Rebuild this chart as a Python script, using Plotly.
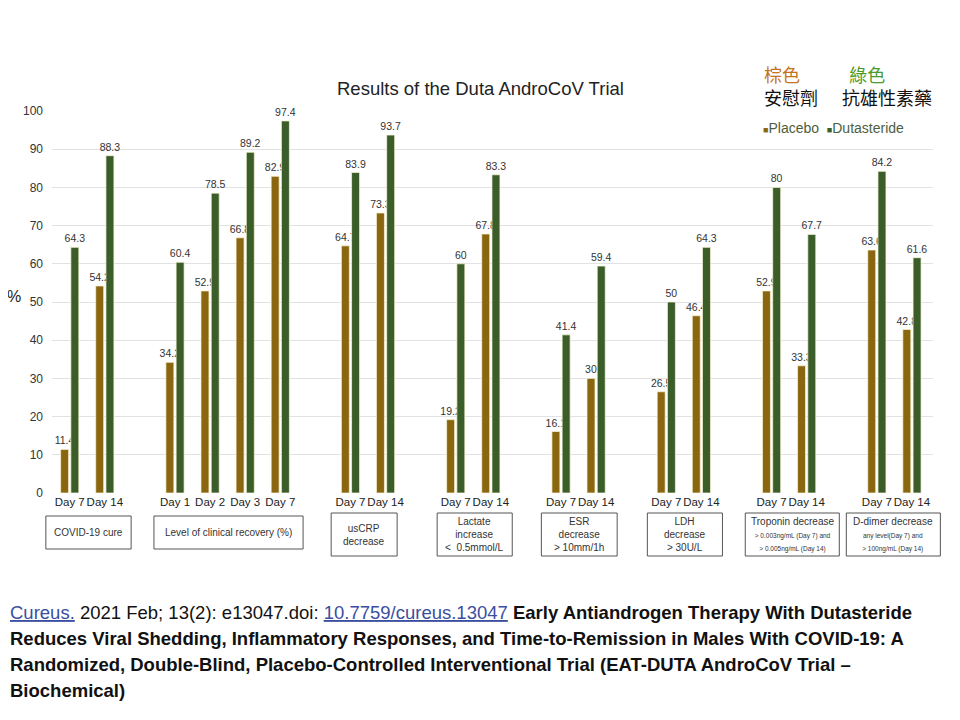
import plotly.graph_objects as go

# ---------------- data ----------------
groups = ["COVID-19 cure", "Level of clinical recovery (%)", "usCRP decrease",
          "Lactate increase", "ESR decrease", "LDH decrease",
          "Troponin decrease", "D-dimer decrease"]
days = [["Day 7", "Day 14"], ["Day 1", "Day 2", "Day 3", "Day 7"], ["Day 7", "Day 14"],
        ["Day 7", "Day 14"], ["Day 7", "Day 14"], ["Day 7", "Day 14"],
        ["Day 7", "Day 14"], ["Day 7", "Day 14"]]
placebo = [[11.4, 54.2], [34.2, 52.9, 66.8, 82.9], [64.7, 73.3], [19.2, 67.8],
           [16.1, 30], [26.5, 46.4], [52.9, 33.3], [63.6, 42.8]]
dutasteride = [[64.3, 88.3], [60.4, 78.5, 89.2, 97.4], [83.9, 93.7], [60, 83.3],
               [41.4, 59.4], [50, 64.3], [80, 67.7], [84.2, 61.6]]
box_labels = [
    "COVID-19 cure",
    "Level of clinical recovery (%)",
    "usCRP<br>decrease",
    "Lactate<br>increase<br>&lt;  0.5mmol/L",
    "ESR<br>decrease<br>&gt; 10mm/1h",
    "LDH<br>decrease<br>&gt; 30U/L",
    "Troponin decrease<br><span style='font-size:6.5px'>&gt; 0.003ng/mL (Day 7) and<br>&gt; 0.005ng/mL (Day 14)</span>",
    "D-dimer decrease<br><span style='font-size:6.5px'>any level(Day 7) and<br>&gt; 100ng/mL (Day 14)</span>",
]
series_names = ["Placebo", "Dutasteride"]

# ---------------- styles ----------------
C_PLA = "#8a6611"
C_DUT = "#3b5d2a"
FONT = "Liberation Sans, Arial, Helvetica, sans-serif"
CJK = "Noto Sans CJK TC, Noto Sans CJK SC, sans-serif"
box_pad_left = [0.68, 0.60, 0.55, 0.53, 0.56, 0.54, 0.75, 0.87]
box_pad_right = [0.75, 0.65, 0.33, 0.61, 0.60, 0.60, 0.93, 0.81]
box_tall = [False, False, True, True, True, True, True, True]
XR = [-0.505, 24.6]

# page has an 8px body margin; figure is sized to fit inside the 960x720 window
OFF = 8
W, H = 960 - 2 * OFF, 720 - 2 * OFF
# plot area in window pixels
L, R, T, B = 52, 933, 111, 493
def fx(px):
    return (px - L) / (R - L)
def fy(py):
    return (B - py) / (B - T)
def xd2p(xd):
    return (xd - XR[0]) / (XR[1] - XR[0])

# slot positions (one empty slot between groups)
xs, ticks, group_span = [], [], []
pos = 0
for g, dl in zip(groups, days):
    start = pos
    for d in dl:
        xs.append(pos)
        ticks.append(d)
        pos += 1
    group_span.append((start, pos - 1))
    pos += 1

pla_flat = [v for g in placebo for v in g]
dut_flat = [v for g in dutasteride for v in g]

fig = go.Figure()
for name, vals, col in [(series_names[0], pla_flat, C_PLA), (series_names[1], dut_flat, C_DUT)]:
    fig.add_trace(go.Bar(
        x=xs, y=vals, name=name,
        marker=dict(color=col, line=dict(color="rgba(250,245,215,0.9)", width=0.8)),
        text=[f"{v:g}" for v in vals], textposition="outside",
        textfont=dict(family=FONT, size=10.5, color="#333333"),
        constraintext="none", cliponaxis=False, showlegend=False,
    ))

fig.update_layout(
    width=W, height=H,
    margin=dict(l=L - OFF, r=W - (R - OFF), t=T - OFF, b=H - (B - OFF), autoexpand=False),
    paper_bgcolor="white", plot_bgcolor="white",
    barmode="group", bargap=0.417, bargroupgap=0.22,
    font=dict(family=FONT, color="#333333"),
    xaxis=dict(range=XR, tickmode="array", tickvals=xs, ticktext=ticks,
               tickangle=0, automargin=False,
               tickfont=dict(family=FONT, size=11.5, color="#222222"),
               showgrid=False, zeroline=False, showline=False, ticks=""),
    yaxis=dict(range=[0, 100], dtick=10, automargin=False,
               tickfont=dict(family=FONT, size=12, color="#333333"),
               gridcolor="#e2e2e2", gridwidth=1, zeroline=False, showline=False,
               ticklabelstandoff=8),
)

shapes = []
annotations = []
for i, (s, e) in enumerate(group_span):
    if box_tall[i]:
        y0, y1 = 513, 556
    else:
        y0, y1 = 516, 549
    bx0, bx1 = xd2p(s - box_pad_left[i]), xd2p(e + box_pad_right[i])
    shapes.append(dict(type="rect", xref="paper", yref="paper",
                       x0=bx0, x1=bx1, y0=fy(y1), y1=fy(y0),
                       line=dict(color="#555555", width=1), fillcolor="rgba(0,0,0,0)"))
    annotations.append(dict(xref="paper", yref="paper", x=(bx0 + bx1) / 2,
                            y=fy((y0 + y1) / 2), text=box_labels[i], showarrow=False,
                            font=dict(family=FONT, size=10, color="#333333"),
                            xanchor="center", yanchor="middle", align="center"))

# title
annotations.append(dict(xref="paper", yref="paper", x=fx(480), y=fy(88),
                        text="Results of the Duta AndroCoV Trial", showarrow=False,
                        font=dict(family=FONT, size=18.5, color="#222222"),
                        xanchor="center", yanchor="middle"))
# y label
annotations.append(dict(xref="paper", yref="paper", x=fx(14), y=fy(296), text="%",
                        showarrow=False, font=dict(family=FONT, size=16, color="#222222"),
                        xanchor="center", yanchor="middle"))
# legend (manual)
annotations.append(dict(xref="paper", yref="paper", x=fx(761), y=fy(128),
                        text=f"<span style='color:{C_PLA};font-size:9px'>■</span>Placebo  "
                             f"<span style='color:{C_DUT};font-size:9px'>■</span>Dutasteride",
                        showarrow=False, font=dict(family=FONT, size=14, color="#4e5e40"),
                        xanchor="left", yanchor="middle"))
# Chinese notes
for c_txt, c_col, n_txt, x in [("棕色", "#c4721c", "安慰劑", 762),
                               ("&#8201;&#8201;綠色", "#4b9a2c", "抗雄性素藥", 840)]:
    annotations.append(dict(xref="paper", yref="paper", x=fx(x), y=fy(85.5),
                            text=f"<span style='color:{c_col}'>{c_txt}</span><br>{n_txt}",
                            showarrow=False, font=dict(family=CJK, size=18, color="#111111"),
                            xanchor="left", yanchor="middle", align="left"))

# citation
LINK = "#3b4ea0"
cite_lines = [
    f"<span style='color:{LINK};text-decoration:underline'>Cureus.</span> 2021 Feb; 13(2): e13047.doi: "
    f"<span style='color:{LINK};text-decoration:underline'>10.7759/cureus.13047</span> "
    "<b>Early Antiandrogen Therapy With Dutasteride</b>",
    "<b>Reduces Viral Shedding, Inflammatory Responses, and Time-to-Remission in Males With COVID-19: A</b>",
    "<b>Randomized, Double-Blind, Placebo-Controlled Interventional Trial (EAT-DUTA AndroCoV Trial –</b>",
    "<b>Biochemical)</b>",
]
for k, line in enumerate(cite_lines):
    annotations.append(dict(xref="paper", yref="paper", x=fx(8), y=fy(612 + 26 * k),
                            text=line, showarrow=False,
                            font=dict(family=FONT, size=18.5, color="#111111"),
                            xanchor="left", yanchor="middle", align="left"))

fig.update_layout(shapes=shapes, annotations=annotations)
fig.write_html("out.html")
